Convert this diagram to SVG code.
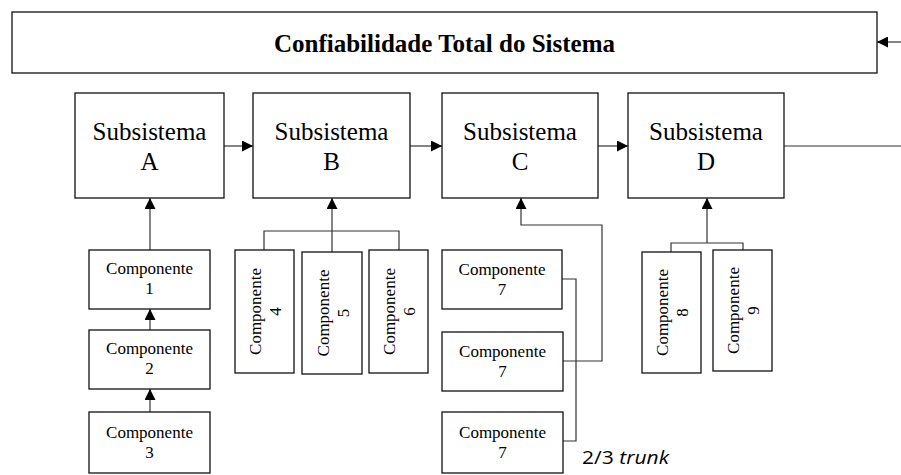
<svg xmlns="http://www.w3.org/2000/svg" width="901" height="475" viewBox="0 0 901 475">
<style>
.box{fill:#fff;stroke:#111;stroke-width:1.3}
.ln{fill:none;stroke:#333;stroke-width:1.2}
.sub{font-family:"Liberation Serif","Times New Roman",serif;font-size:25px;fill:#000;text-anchor:middle}
.cmp{font-family:"Liberation Serif","Times New Roman",serif;font-size:17px;fill:#000;text-anchor:middle}
.ttl{font-family:"Liberation Serif","Times New Roman",serif;font-size:25px;font-weight:bold;fill:#000;text-anchor:middle}
.note{font-family:"Open Sans","Noto Sans",sans-serif;font-size:18px;fill:#000}
</style>
<defs>
<marker id="arr" markerUnits="userSpaceOnUse" markerWidth="11" markerHeight="11" refX="11" refY="5.5" orient="auto">
<path d="M0,0 L11,5.5 L0,11 z" fill="#000"/>
</marker>
</defs>
<rect width="901" height="475" fill="#fff"/>
<g id="connectors">
<line class="ln" x1="901" y1="42" x2="877" y2="42" marker-end="url(#arr)"/>
<line class="ln" x1="224" y1="146" x2="253" y2="146" marker-end="url(#arr)"/>
<line class="ln" x1="410" y1="146" x2="442" y2="146" marker-end="url(#arr)"/>
<line class="ln" x1="598" y1="146" x2="628" y2="146" marker-end="url(#arr)"/>
<line class="ln" x1="784" y1="146" x2="901" y2="146"/>
<line class="ln" x1="150" y1="250" x2="150" y2="198" marker-end="url(#arr)"/>
<line class="ln" x1="150" y1="330" x2="150" y2="309" marker-end="url(#arr)"/>
<line class="ln" x1="150" y1="412" x2="150" y2="389" marker-end="url(#arr)"/>
<path class="ln" d="M264,250 V231 H399 V250"/>
<line class="ln" x1="332" y1="252" x2="332" y2="198" marker-end="url(#arr)"/>
<path class="ln" d="M562,279 H576 V441 H563"/>
<path class="ln" d="M563,361 H602 V225 H521 V198" marker-end="url(#arr)"/>
<path class="ln" d="M671,252 V243 H743 V250"/>
<line class="ln" x1="707" y1="243" x2="707" y2="198" marker-end="url(#arr)"/>
</g>
<g id="total">
<rect class="box" x="12" y="12" width="865" height="61"/>
<text class="ttl" x="444.5" y="52">Confiabilidade Total do Sistema</text>
</g>
<g id="subA">
<rect class="box" x="75" y="93" width="149" height="105"/>
<text class="sub" x="149.5" y="140">Subsistema</text>
<text class="sub" x="149.5" y="170">A</text>
</g>
<g id="subB">
<rect class="box" x="253" y="93" width="157" height="105"/>
<text class="sub" x="331.5" y="140">Subsistema</text>
<text class="sub" x="331.5" y="170">B</text>
</g>
<g id="subC">
<rect class="box" x="442" y="93" width="156" height="105"/>
<text class="sub" x="520" y="140">Subsistema</text>
<text class="sub" x="520" y="170">C</text>
</g>
<g id="subD">
<rect class="box" x="628" y="93" width="156" height="105"/>
<text class="sub" x="706" y="140">Subsistema</text>
<text class="sub" x="706" y="170">D</text>
</g>
<g id="comp1">
<rect class="box" x="89" y="250" width="121" height="59"/>
<text class="cmp" x="149.5" y="274">Componente</text>
<text class="cmp" x="149.5" y="294">1</text>
</g>
<g id="comp2">
<rect class="box" x="89" y="330" width="121" height="59"/>
<text class="cmp" x="149.5" y="354">Componente</text>
<text class="cmp" x="149.5" y="374">2</text>
</g>
<g id="comp3">
<rect class="box" x="89" y="412" width="121" height="61"/>
<text class="cmp" x="149.5" y="438">Componente</text>
<text class="cmp" x="149.5" y="458">3</text>
</g>
<g id="comp4">
<rect class="box" x="235" y="250" width="59" height="123"/>
<g transform="translate(264.5,311.5) rotate(-90)">
<text class="cmp" x="0" y="-3.5">Componente</text>
<text class="cmp" x="0" y="16.5">4</text>
</g>
</g>
<g id="comp5">
<rect class="box" x="302" y="252" width="60" height="122"/>
<g transform="translate(332,313) rotate(-90)">
<text class="cmp" x="0" y="-3.5">Componente</text>
<text class="cmp" x="0" y="16.5">5</text>
</g>
</g>
<g id="comp6">
<rect class="box" x="369" y="250" width="59" height="123"/>
<g transform="translate(398.5,311.5) rotate(-90)">
<text class="cmp" x="0" y="-3.5">Componente</text>
<text class="cmp" x="0" y="16.5">6</text>
</g>
</g>
<g id="comp7a">
<rect class="box" x="442" y="250" width="120" height="59"/>
<text class="cmp" x="502" y="275">Componente</text>
<text class="cmp" x="502" y="295">7</text>
</g>
<g id="comp7b">
<rect class="box" x="442" y="332" width="121" height="59"/>
<text class="cmp" x="502.5" y="357">Componente</text>
<text class="cmp" x="502.5" y="377">7</text>
</g>
<g id="comp7c">
<rect class="box" x="442" y="412" width="121" height="61"/>
<text class="cmp" x="502.5" y="438">Componente</text>
<text class="cmp" x="502.5" y="458">7</text>
</g>
<g id="comp8">
<rect class="box" x="642" y="252" width="59" height="121"/>
<g transform="translate(671.5,312.5) rotate(-90)">
<text class="cmp" x="0" y="-3.5">Componente</text>
<text class="cmp" x="0" y="16.5">8</text>
</g>
</g>
<g id="comp9">
<rect class="box" x="713" y="250" width="59" height="121"/>
<g transform="translate(742.5,310.5) rotate(-90)">
<text class="cmp" x="0" y="-3.5">Componente</text>
<text class="cmp" x="0" y="16.5">9</text>
</g>
</g>
<text class="note" x="582" y="464" textLength="87" lengthAdjust="spacingAndGlyphs">2/3 <tspan font-style="italic">trunk</tspan></text>
</svg>
